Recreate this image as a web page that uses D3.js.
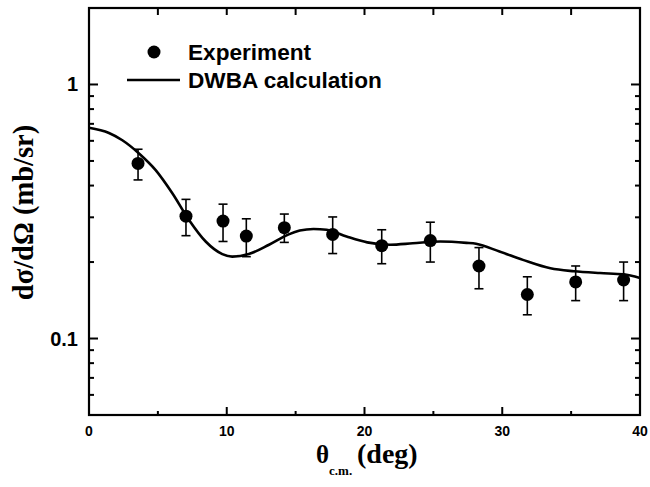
<!DOCTYPE html>
<html>
<head>
<meta charset="utf-8">
<script src="https://cdn.jsdelivr.net/npm/d3@7"></script>
<style>
  body { margin: 0; background: #fff; }
  svg { display: block; }
</style>
</head>
<body>
<div id="chart"></div>
<script>
// measured points
var theta = [3.56, 7.04, 9.73, 11.42, 14.18, 17.69, 21.25, 24.78, 28.31, 31.82, 35.33, 38.81];
var sigma = [0.489, 0.303, 0.290, 0.253, 0.273, 0.257, 0.232, 0.243, 0.193, 0.149, 0.167, 0.170];
var sigmaLo = [0.421, 0.254, 0.241, 0.210, 0.239, 0.216, 0.197, 0.200, 0.157, 0.124, 0.141, 0.141];
var sigmaHi = [0.556, 0.353, 0.338, 0.296, 0.309, 0.301, 0.268, 0.287, 0.228, 0.175, 0.193, 0.200];

// DWBA curve
var dwbaTheta = [0, 1.45, 2.42, 3.63, 4.84, 6.05, 7.26, 8.47, 9.68, 10.4, 11.6, 13.07, 14.5, 15.3, 16.3, 17.25,
    18.7, 20.2, 21.85, 23.5, 25.5, 27.4, 28.1, 29.8, 31.5, 33.5, 35.2, 37.1, 38.8, 40];
var dwbaSigma = [0.675, 0.644, 0.603, 0.535, 0.460, 0.373, 0.293, 0.241, 0.215, 0.210, 0.215, 0.234, 0.257, 0.266, 0.270, 0.268,
    0.252, 0.239, 0.234, 0.237, 0.241, 0.238, 0.236, 0.220, 0.204, 0.189, 0.184, 0.181, 0.179, 0.173];

var xTicks = [0, 10, 20, 30, 40];
var yTicks = [0.1, 1];
var yTickLabels = ['0.1', '1'];

var width = 650, height = 487;
var margin = {top: 8, right: 10, bottom: 72, left: 89};

var svg = d3.select('#chart').append('svg')
    .attr('width', width)
    .attr('height', height);

var x = d3.scaleLinear().domain([0, 40]).range([margin.left, width - margin.right]);
var y = d3.scaleLog().domain([0.05, 2]).range([height - margin.bottom, margin.top]);

var x0 = x.range()[0], x1 = x.range()[1];
var y0 = y.range()[0], y1 = y.range()[1];

// ticks (all pointing inward)
var xMinor = d3.range(5, 40, 10);
var yMinor = [];
[0.01, 0.1, 1].forEach(function (d) {
    for (var k = 2; k <= 9; k++) {
        var v = d * k;
        if (v > 0.05 && v < 2 && Math.abs(v - 0.1) > 1e-9 && Math.abs(v - 1) > 1e-9) yMinor.push(v);
    }
});

var ticks = svg.append('g').attr('stroke', '#000').attr('stroke-width', 2);

xTicks.forEach(function (d) {
    ticks.append('line').attr('x1', x(d)).attr('x2', x(d)).attr('y1', y0).attr('y2', y0 - 8);
    ticks.append('line').attr('x1', x(d)).attr('x2', x(d)).attr('y1', y1).attr('y2', y1 + 7);
});
xMinor.forEach(function (d) {
    ticks.append('line').attr('x1', x(d)).attr('x2', x(d)).attr('y1', y0).attr('y2', y0 - 4);
    ticks.append('line').attr('x1', x(d)).attr('x2', x(d)).attr('y1', y1).attr('y2', y1 + 7);
});
yTicks.forEach(function (d) {
    ticks.append('line').attr('x1', x0).attr('x2', x0 + 9).attr('y1', y(d)).attr('y2', y(d));
    ticks.append('line').attr('x1', x1).attr('x2', x1 - 9).attr('y1', y(d)).attr('y2', y(d));
});
yMinor.forEach(function (d) {
    ticks.append('line').attr('x1', x0).attr('x2', x0 + 5).attr('y1', y(d)).attr('y2', y(d));
    ticks.append('line').attr('x1', x1).attr('x2', x1 - 5).attr('y1', y(d)).attr('y2', y(d));
});

// frame
svg.append('rect')
    .attr('x', x0).attr('y', y1)
    .attr('width', x1 - x0).attr('height', y0 - y1)
    .attr('fill', 'none').attr('stroke', '#000').attr('stroke-width', 2.2);

// tick labels
svg.append('g').selectAll('text').data(xTicks).enter().append('text')
    .attr('x', function (d) { return x(d); })
    .attr('y', y0 + 21)
    .attr('text-anchor', 'middle')
    .style('font-family', '"Liberation Sans", Arial, sans-serif')
    .style('font-weight', 'bold')
    .style('font-size', '14px')
    .text(function (d) { return d; });

svg.append('g').selectAll('text').data(yTicks).enter().append('text')
    .attr('x', x0 - 11)
    .attr('y', function (d) { return y(d) + 7; })
    .attr('text-anchor', 'end')
    .style('font-family', '"Liberation Sans", Arial, sans-serif')
    .style('font-weight', 'bold')
    .style('font-size', '20px')
    .text(function (d, i) { return yTickLabels[i]; });

// axis titles
var xTitle = svg.append('text')
    .attr('x', 316)
    .attr('y', 463)
    .style('font-family', '"Liberation Serif", "Times New Roman", serif')
    .style('font-weight', 'bold')
    .style('font-size', '25px');
xTitle.append('tspan').text('θ');
xTitle.append('tspan').attr('dy', 12).style('font-size', '13px').text('c.m.');
xTitle.append('tspan').attr('x', 357).attr('dy', -12).style('font-size', '28px').text('(deg)');

svg.append('text')
    .attr('transform', 'translate(33,' + ((y0 + y1) / 2 + 1) + ') rotate(-90)')
    .attr('text-anchor', 'middle')
    .style('font-family', '"Liberation Serif", "Times New Roman", serif')
    .style('font-weight', 'bold')
    .style('font-size', '28.5px')
    .text('dσ/dΩ (mb/sr)');

// DWBA line
var line = d3.line()
    .x(function (d) { return x(d[0]); })
    .y(function (d) { return y(d[1]); })
    .curve(d3.curveMonotoneX);

svg.append('path')
    .datum(d3.zip(dwbaTheta, dwbaSigma))
    .attr('d', line)
    .attr('fill', 'none')
    .attr('stroke', '#000')
    .attr('stroke-width', 2.6);

// error bars
var pts = theta.map(function (t, i) {
    return {t: t, v: sigma[i], lo: sigmaLo[i], hi: sigmaHi[i]};
});
var eb = svg.append('g').attr('stroke', '#000').attr('stroke-width', 1.6);
pts.forEach(function (p) {
    eb.append('line').attr('x1', x(p.t)).attr('x2', x(p.t)).attr('y1', y(p.lo)).attr('y2', y(p.hi));
    eb.append('line').attr('x1', x(p.t) - 4.5).attr('x2', x(p.t) + 4.5).attr('y1', y(p.lo)).attr('y2', y(p.lo));
    eb.append('line').attr('x1', x(p.t) - 4.5).attr('x2', x(p.t) + 4.5).attr('y1', y(p.hi)).attr('y2', y(p.hi));
});

svg.append('g').selectAll('circle').data(pts).enter().append('circle')
    .attr('cx', function (d) { return x(d.t); })
    .attr('cy', function (d) { return y(d.v); })
    .attr('r', 6.5)
    .attr('fill', '#000');

// legend
var legend = svg.append('g')
    .style('font-family', '"Liberation Sans", Arial, sans-serif')
    .style('font-weight', 'bold')
    .style('font-size', '22.6px');
legend.append('circle').attr('cx', 154).attr('cy', 52).attr('r', 6.5).attr('fill', '#000');
legend.append('text').attr('x', 188).attr('y', 60).text('Experiment');
legend.append('line').attr('x1', 127).attr('x2', 180).attr('y1', 80).attr('y2', 80)
    .attr('stroke', '#000').attr('stroke-width', 2.6);
legend.append('text').attr('x', 188).attr('y', 88).text('DWBA calculation');
</script>
</body>
</html>
